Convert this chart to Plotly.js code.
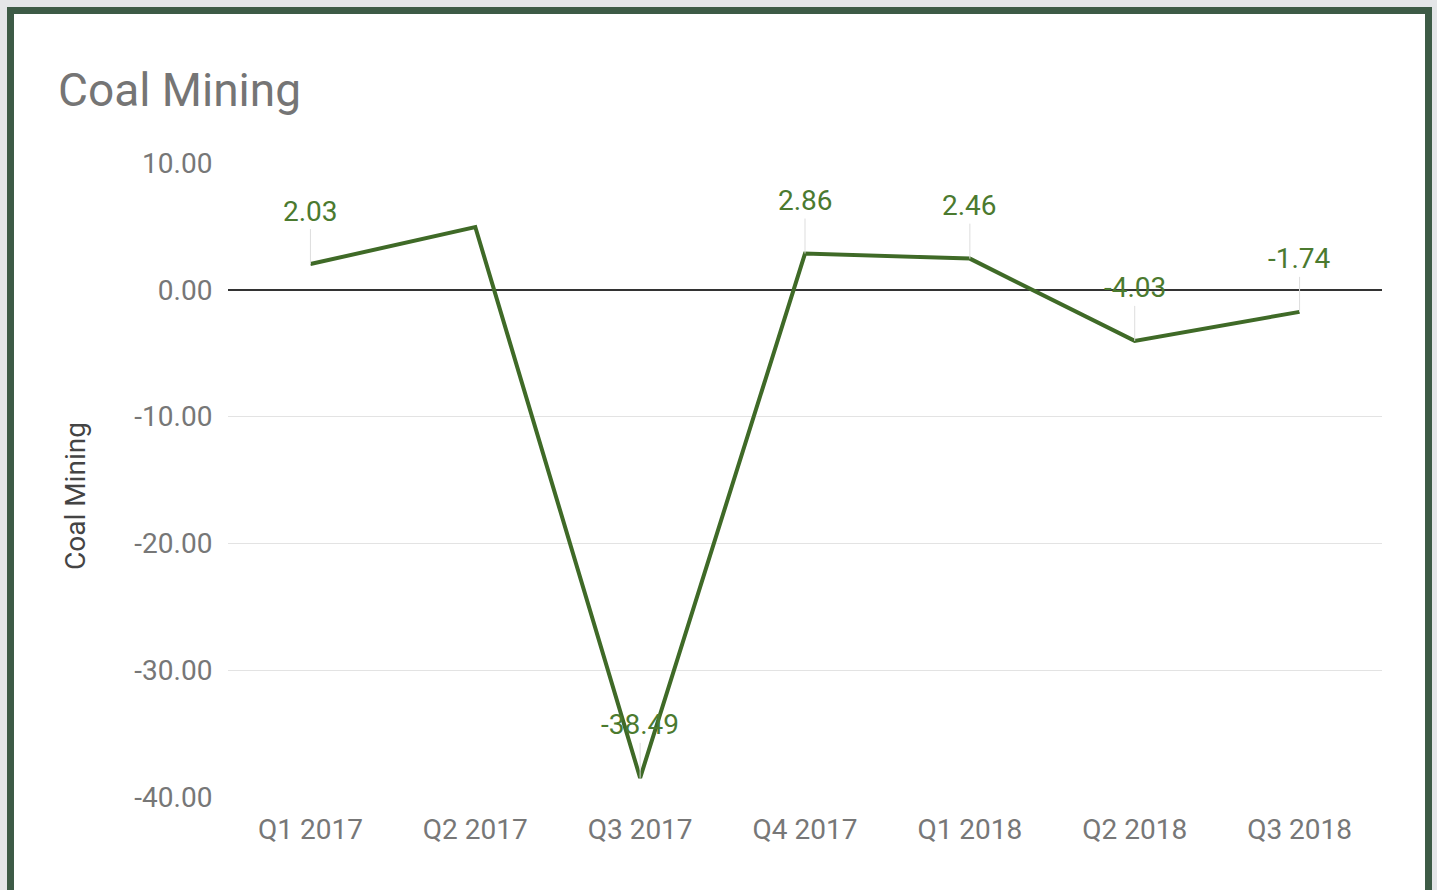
<!DOCTYPE html>
<html>
<head>
<meta charset="utf-8">
<script src="https://cdn.plot.ly/plotly-3.0.1.min.js"></script>
<style>
  html, body { margin:0; padding:0; width:1437px; height:890px; overflow:hidden; background:#e4e6e8; font-family:Roboto, sans-serif; }
  #frame { position:absolute; left:7px; top:7px; width:1411px; height:900px; border:7px solid #3d5b46; background:#ffffff; }
  #chart { position:absolute; left:0; top:0; width:1437px; height:890px; }
</style>
</head>
<body>
<div id="frame"></div>
<div id="chart"></div>
<script>
const categories = ["Q1 2017", "Q2 2017", "Q3 2017", "Q4 2017", "Q1 2018", "Q2 2018", "Q3 2018"];
const values = [2.03, 4.95, -38.49, 2.86, 2.46, -4.03, -1.74];
const showLabel = [true, false, true, true, true, true, true];
const yTickVals = [10, 0, -10, -20, -30, -40];
const seriesName = "Coal Mining";
const chartTitle = "Coal Mining";

const lineColor = "#3f6a27";
const labelColor = "#4b7a2f";

const annotations = [];
categories.forEach((c, i) => {
  if (!showLabel[i]) return;
  annotations.push({
    x: c, y: values[i], xref: "x", yref: "y",
    text: values[i].toFixed(2),
    showarrow: true, arrowhead: 0, arrowwidth: 1, arrowcolor: "#dddddd",
    ax: 0, ay: -53,
    font: { family: "Roboto", size: 28, color: labelColor }
  });
});
// y axis title (placed as rotated annotation to match the reference's offset)
annotations.push({
  text: seriesName, xref: "paper", yref: "paper",
  x: (75 - 228) / 1154, y: (797 - 496) / 634,
  xanchor: "center", yanchor: "middle", textangle: -90, showarrow: false,
  font: { family: "Roboto", size: 28, color: "#444444" }
});

const trace = {
  type: "scatter", mode: "lines",
  x: categories, y: values, name: seriesName,
  line: { color: lineColor, width: 4 },
  hoverinfo: "x+y"
};

const layout = {
  width: 1437, height: 890,
  paper_bgcolor: "rgba(0,0,0,0)", plot_bgcolor: "rgba(0,0,0,0)",
  margin: { l: 228, r: 55, t: 163, b: 93, pad: 0 },
  showlegend: false,
  font: { family: "Roboto", color: "#757575" },
  title: {
    text: chartTitle, xref: "container", yref: "container",
    x: 58 / 1437, xanchor: "left", y: 1 - 90 / 890, yanchor: "middle",
    font: { family: "Roboto", size: 46, color: "#757575" }
  },
  xaxis: {
    type: "category", range: [-0.5, categories.length - 0.5],
    showgrid: false, zeroline: false, showline: false,
    ticks: "outside", ticklen: 7, tickcolor: "rgba(0,0,0,0)",
    tickfont: { family: "Roboto", size: 28, color: "#777777" }
  },
  yaxis: {
    range: [-40, 10], tickvals: yTickVals,
    ticktext: yTickVals.map(v => v.toFixed(2)),
    showgrid: true, gridcolor: "#e3e3e3", gridwidth: 1,
    zeroline: true, zerolinecolor: "#333333", zerolinewidth: 1.5,
    showline: false,
    ticks: "outside", ticklen: 9, tickcolor: "rgba(0,0,0,0)",
    tickfont: { family: "Roboto", size: 28, color: "#777777" }
  },
  annotations: annotations
};

Plotly.newPlot("chart", [trace], layout, { displayModeBar: false, staticPlot: true });
</script>
</body>
</html>
